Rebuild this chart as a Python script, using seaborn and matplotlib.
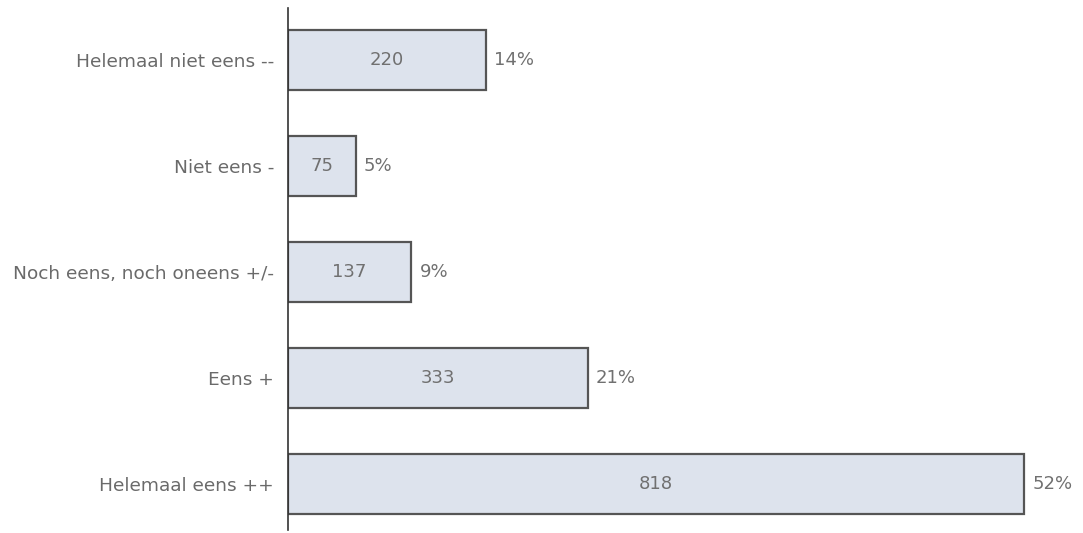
import matplotlib
matplotlib.use("Agg")
import matplotlib.pyplot as plt
import seaborn as sns
import pandas as pd

categories = ["Helemaal niet eens --", "Niet eens -", "Noch eens, noch oneens +/-", "Eens +", "Helemaal eens ++"]
counts = [220, 75, 137, 333, 818]
percent_labels = ["14%", "5%", "9%", "21%", "52%"]

df = pd.DataFrame({"cat": categories, "n": counts})

sns.set_style("white")
plt.rcParams['font.family'] = ['DejaVu Sans']

fig = plt.figure(figsize=(10.83, 5.33), dpi=100)
ax = fig.add_axes([288/1083, 3/533, 1 - 288/1083, 522/533])

sns.barplot(data=df, x="n", y="cat", orient="h", ax=ax, color="#dde3ed",
            edgecolor="#555555", linewidth=1.6, width=0.56, saturation=1)

ax.set_xlim(0, (1083 - 288) / 0.9)
ax.set_ylim(4.434, -0.49)
for spine in ["top", "right", "bottom"]:
    ax.spines[spine].set_visible(False)
ax.spines["left"].set_color("#333333")
ax.spines["left"].set_linewidth(1.2)
ax.set_xticks([])
ax.set_xlabel("")
ax.set_ylabel("")
ax.tick_params(axis="y", length=0, pad=10, labelsize=13.3, labelcolor="#6a6a6a")

for i, (v, p) in enumerate(zip(counts, percent_labels)):
    ax.text(v / 2, i, str(v), ha="center", va="center", fontsize=13, color="#707070")
    ax.text(v + 9, i, p, ha="left", va="center", fontsize=13, color="#707070")

fig.savefig("out.png", dpi=100)
